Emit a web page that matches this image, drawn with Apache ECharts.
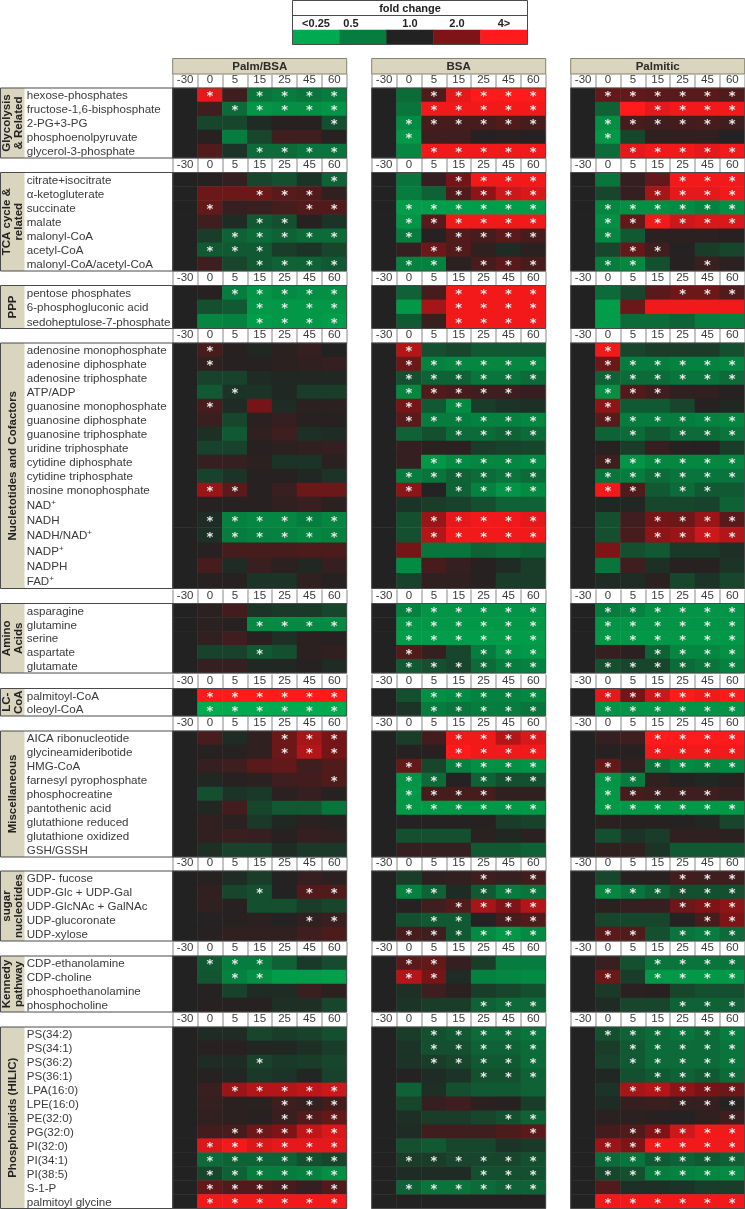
<!DOCTYPE html>
<html>
<head>
<meta charset="utf-8">
<title>fold change heatmap</title>
<script src="https://cdn.jsdelivr.net/npm/echarts@6/dist/echarts.min.js"></script>
<style>
  html, body { margin: 0; padding: 0; background: #fff; }
  #chart { width: 745px; height: 1209px; }
</style>
</head>
<body>
<div id="chart"></div>
<script>
const timePoints = ['-30', '0', '5', '15', '25', '45', '60'];
const panelNames = ['Palm/BSA', 'BSA', 'Palmitic'];
const legendLabels = ['<0.25', '0.5', '1.0', '2.0', '4>'];
const legendValues = [-2, -1, 0, 1, 2];

const groupNames = ['Glycolysis\n& Related', 'TCA cycle &\nrelated', 'PPP', 'Nucletotides and Cofactors',
  'Amino\nAcids', 'LC-\nCoA', 'Miscellaneous', 'sugar\nnucleotides', 'Kennedy\npathway', 'Phospholipids (HILIC)'];

const glycolysisRows = ['hexose-phosphates', 'fructose-1,6-bisphosphate', '2-PG+3-PG', 'phosphoenolpyruvate', 'glycerol-3-phosphate'];
const tcaRows = ['citrate+isocitrate', 'α-ketogluterate', 'succinate', 'malate', 'malonyl-CoA', 'acetyl-CoA', 'malonyl-CoA/acetyl-CoA'];
const pppRows = ['pentose phosphates', '6-phosphogluconic acid', 'sedoheptulose-7-phosphate'];
const nucleotideRows = ['adenosine monophosphate', 'adenosine diphosphate', 'adenosine triphosphate', 'ATP/ADP',
  'guanosine monophosphate', 'guanosine diphosphate', 'guanosine triphosphate', 'uridine triphosphate',
  'cytidine diphosphate', 'cytidine triphosphate', 'inosine monophosphate'];
const cofactorRows = ['NAD+', 'NADH', 'NADH/NAD+', 'NADP+', 'NADPH', 'FAD+'];
const aminoRows = ['asparagine', 'glutamine', 'serine', 'aspartate', 'glutamate'];
const lcCoaRows = ['palmitoyl-CoA', 'oleoyl-CoA'];
const miscRows = ['AICA ribonucleotide', 'glycineamideribotide', 'HMG-CoA', 'farnesyl pyrophosphate', 'phosphocreatine',
  'pantothenic acid', 'glutathione reduced', 'glutathione oxidized', 'GSH/GSSH'];
const sugarRows = ['GDP- fucose', 'UDP-Glc + UDP-Gal', 'UDP-GlcNAc + GalNAc', 'UDP-glucoronate', 'UDP-xylose'];
const kennedyRows = ['CDP-ethanolamine', 'CDP-choline', 'phosphoethanolamine', 'phosphocholine'];
const lipidRows = ['PS(34:2)', 'PS(34:1)', 'PS(36:2)', 'PS(36:1)', 'LPA(16:0)', 'LPE(16:0)', 'PE(32:0)', 'PG(32:0)',
  'PI(32:0)', 'PI(34:1)', 'PI(38:5)', 'S-1-P', 'palmitoyl glycine'];

// log2 fold change, one line per metabolite, same order as the row lists above
const palmBsaValues = [
  [0,1.8,0.3,-0.9,-1,-0.9,-1], [0,0.3,-0.8,-1.5,-1.4,-1.4,-1.5], [0,-0.4,-0.4,-0.1,0.05,0.05,-0.5], [0,0.05,-1,-0.4,0.3,0.3,0.05], [0,0.5,-0.2,-0.8,-0.8,-0.9,-0.9],
  [0,0.05,0.2,-0.4,-0.5,-0.2,-0.7], [0,0.8,0.8,0.8,0.6,0.5,0.15], [0,0.7,0.2,0.25,0.4,0.5,0.5], [0,0.3,-0.1,-0.6,-0.5,0.05,-0.2], [0,-0.3,-0.7,-0.8,-0.7,-0.8,-0.8], [0,-0.6,-0.6,-0.6,-0.3,-0.2,-0.4], [0,0.3,-0.4,-0.6,-0.7,-0.7,-0.6],
  [0,0.05,-1,-1.5,-1.3,-1.4,-1.4], [0,-0.5,-0.6,-1.6,-1.6,-1.6,-1.6], [0,-1.2,-1.1,-1.7,-1.6,-1.6,-1.7],
  [0,0.4,0.05,-0.05,0.1,0.2,0], [0,0.15,0.05,0.05,0.1,0.15,0.2], [0,-0.35,-0.35,-0.1,-0.05,-0.05,-0.05], [0,-0.6,-0.2,-0.2,-0.05,-0.3,-0.3], [0,0.4,-0.1,0.9,-0.1,0.1,0.1], [0,0.25,-0.4,0.1,0.2,0.05,0.05], [0,-0.15,-0.6,0.15,0.3,-0.15,-0.1], [0,-0.35,-0.35,0.05,0.1,0.15,0.2], [0,0.2,0.2,0.1,-0.2,-0.2,0.1], [0,-0.35,-0.2,0.05,0.05,-0.05,-0.2], [0,1.2,0.6,0.05,0.25,0.8,0.8],
  [0,0.05,0.05,0.05,0.15,0.25,0.1], [0,-0.1,-1.1,-1.2,-1.2,-1,-1.2], [0,-0.15,-1,-1.1,-1.1,-1.2,-1.1], [0,0.05,0.4,0.4,0.4,0.45,0.45], [0,0.4,-0.1,0.25,0.1,-0.05,0.2], [0,0.05,0.05,-0.2,-0.2,0.15,0.05],
  [0,0.1,0.35,-0.2,-0.25,-0.25,-0.4], [0,0.1,0.05,-1.3,-1.3,-1.3,-1.3], [0,0.15,0.3,0.05,-0.15,0.1,0.05], [0,-0.35,-0.35,-0.6,-0.5,0.1,0.15], [0,0.2,0.2,-0.05,-0.05,0.05,-0.1],
  [0,2,2,2,2,2,2], [0,-2,-2,-2,-2,-2,-2],
  [0,0.4,-0.1,0.15,0.8,1.3,0.9], [0,0.05,0.05,0.15,0.8,1.4,0.9], [0,0.2,0.3,0.6,0.7,0.3,0.5], [0,-0.05,0.05,0.1,0.3,0.35,0.5], [0,-0.5,-0.2,-0.25,0.1,0.2,0.05], [0,-0.05,0.35,-0.4,-0.6,-0.6,-0.9], [0,0.15,0.1,-0.25,-0.05,0.1,0.05], [0,0.15,0.25,0.2,0.05,0.2,0.15], [0,-0.15,-0.35,-0.35,-0.1,-0.25,-0.25],
  [0,0.05,-0.1,-0.3,0.02,0.2,0.1], [0,0.15,-0.4,-0.5,0.02,0.5,0.5], [0,0.15,0.05,-0.5,-0.5,-0.3,-0.4], [0,0.02,0.05,0.1,0.02,0.15,0.25], [0,0.05,0.15,0.15,0.15,0.3,0.45],
  [0,-0.6,-1,-1,-0.7,-0.25,-0.45], [0,-0.55,-1.1,-1.4,-1.7,-1.7,-1.8], [0,0.02,-0.35,-0.1,-0.1,0.25,0.1], [0,0.05,0.05,0.05,-0.15,-0.15,-0.4],
  [0,-0.1,-0.1,-0.4,-0.3,-0.35,-0.5], [0,0.05,0.05,-0.05,-0.05,-0.15,-0.3], [0,-0.1,-0.1,-0.35,-0.25,-0.3,-0.4], [0,0.05,-0.05,-0.25,-0.2,-0.05,-0.35], [0,0.25,1.2,1.4,1.4,1.5,1.6], [0,0.2,0.1,0.1,0.3,0.2,0.35], [0,0.15,0.1,0.05,0.25,0.5,0.7], [0,0.35,0.4,0.8,1,1.5,1.7], [0,1.7,1.9,1.7,1.8,1.8,1.8], [0,-0.8,-0.7,-0.7,-0.7,-0.5,-0.4], [0,-0.4,-0.7,-1,-1,-1.1,-1.4], [0,0.7,0.5,0.5,0.4,0.2,0.5], [0,1.9,1.9,1.9,1.9,1.9,1.9]
];
const palmBsaStars = [
  '.*.****', '..*****', '......*', '.......', '...****',
  '......*', '...***.', '.*...**', '...**..', '..*****', '.***...', '...****',
  '..*****', '...****', '...****',
  '.*.....', '.*.....', '.......', '..*....', '.*.....', '.......', '.......', '.......', '.......', '.......', '.**....',
  '.......', '.******', '.******', '.......', '.......', '.......',
  '.......', '...****', '.......', '...*...', '.......',
  '.******', '.******',
  '....***', '....***', '.......', '......*', '.......', '.......', '.......', '.......', '.......',
  '.......', '...*.**', '.......', '.....**', '.......',
  '.***...', '..**...', '.......', '.......',
  '.......', '.......', '...*...', '.......', '..*****', '....***', '....***', '..*****', '.******', '.******', '.******', '.****.*', '.******'
];

const bsaValues = [
  [0,-0.8,0.5,1.8,2,2,2], [0,-0.9,1.9,1.9,1.9,1.9,1.9], [0,-1.3,0.4,0.4,0.4,0.5,0.4], [0,-1.6,0.3,0.3,0.05,0.1,0.05], [0,-1.2,1.9,1.9,1.9,1.9,1.9],
  [0,-0.9,0.2,0.9,1.9,1.9,1.9], [0,-1,-0.7,0.5,1.1,1.6,1.7], [0,-1.7,-1.7,-1.7,-1.7,-1.7,-1.7], [0,-1.5,0.6,1.9,1.9,1.9,1.9], [0,-1,0.05,0.5,0.4,0.6,0.4], [0,0.2,0.8,0.5,0.15,-0.1,0.1], [0,-1.1,-1.1,0.1,0.4,0.6,0.4],
  [0,-0.7,0.4,1.9,1.9,1.9,1.9], [0,-1.6,1.3,1.9,1.9,1.9,1.9], [0,-0.6,0.25,1.9,1.9,1.9,1.9],
  [0,1.4,-0.5,-0.4,-0.6,-0.6,-0.6], [0,0.8,-1.1,-1.2,-1.2,-1.2,-1.2], [0,-0.5,-0.7,-0.7,-0.9,-0.9,-0.8], [0,-1.2,0.5,0.4,0.3,0.3,0.2], [0,0.9,-0.6,-1.3,-0.3,-0.2,-0.15], [0,0.6,-1,-1,-1.1,-1.1,-1.2], [0,-0.7,-0.5,-0.8,-0.8,-0.7,-0.8], [0,0.2,0.1,0.1,-0.3,-0.35,-0.4], [0,0.2,-1.6,-1.3,-1.2,-1.2,-1.3], [0,-1,-0.9,-0.7,-0.8,-0.9,-0.8], [0,1.1,0.02,-0.7,-1.1,-1.5,-1.3],
  [0,-0.2,-0.3,-0.35,-0.5,-0.7,-0.7], [0,-0.5,1.2,1.8,1.9,1.9,1.8], [0,-0.5,1.4,1.9,1.9,1.9,1.9], [0,0.9,-0.9,-0.9,-0.7,-0.8,-0.7], [0,-1.3,0.4,0.2,0.05,-0.1,-0.3], [0,-0.35,0.15,0.15,0.05,-0.3,-0.3],
  [0,-1.1,-1.5,-1.5,-1.5,-1.5,-1.5], [0,-1.6,-1.6,-1.6,-1.6,-1.6,-1.6], [0,-1.7,-1.7,-1.7,-1.7,-1.7,-1.7], [0,0.5,0.2,-0.4,-1,-1.5,-1.6], [0,-0.6,-0.5,-0.4,-0.8,-1,-1.1],
  [0,-0.5,-1.4,-1.3,-1.1,-1.1,-1.2], [0,-0.2,-1,-0.9,-1,-1,-0.9],
  [0,-0.3,0.35,1.9,1.9,1.4,1.7], [0,0.05,0.05,2,1.9,1.9,1.9], [0,0.7,-0.4,-1.1,-1.4,-1.4,-1.5], [0,-1.5,-0.8,0.02,-0.7,-0.5,-0.5], [0,-1.6,0.4,0.4,0.4,0.15,0.15], [0,-1.6,-1.6,-1.6,-1.6,-1.6,-1.6], [0,0.02,0.02,0.02,0.05,-0.3,-0.35], [0,-0.5,-0.5,-0.5,0.1,-0.05,0.1], [0,0.2,0.2,0.2,-0.6,-0.6,-0.7],
  [0,-0.3,0.1,0.15,0.3,0.2,0.35], [0,-1.1,-0.7,-0.1,-0.6,-1,-0.9], [0,0.05,0.3,0.5,1.3,1,1.4], [0,-0.5,-0.6,-0.6,0.02,0.4,0.5], [0,0.4,0.3,-0.6,-1.3,-1.6,-1.3],
  [0,0.6,0.7,0.2,-0.3,-1,-1], [0,1.4,0.9,-0.1,-1.1,-1.2,-1.3], [0,-0.15,0.3,0.1,-0.3,-0.4,-0.5], [0,-0.2,-0.3,-0.3,-0.7,-0.8,-0.8],
  [0,-0.3,-0.5,-0.6,-0.8,-0.8,-0.9], [0,-0.2,-0.5,-0.5,-0.7,-0.7,-0.8], [0,-0.2,-0.3,-0.4,-0.6,-0.6,-0.8], [0,0.02,-0.1,-0.2,-0.5,-0.5,-0.7], [0,-0.7,-0.15,-0.5,-0.6,-0.6,-0.7], [0,-0.4,0.2,0.3,0.1,0.05,-0.3], [0,-0.15,-0.3,-0.3,-0.4,-0.5,-0.7], [0,-0.1,0.3,0.3,0.3,0.45,0.6], [0,-0.5,-0.6,-0.4,-0.4,-0.2,-0.25], [0,-0.3,-0.3,-0.4,-0.4,-0.4,-0.5], [0,-0.1,-0.1,-0.1,-0.5,-0.5,-0.5], [0,-0.7,-0.9,-0.9,-0.8,-0.7,-0.7], [0,0,0,0,0,0,0]
];
const bsaStars = [
  '..*****', '..*****', '.******', '.*.....', '..*****',
  '...****', '...****', '.******', '.******', '.*.****', '..**...', '.**.***',
  '...****', '...****', '...****',
  '.*.....', '.******', '.******', '.*****.', '.*.*...', '.******', '...****', '.......', '..*****', '.******', '.*.****',
  '.......', '..*****', '..*****', '.......', '.......', '.......',
  '.******', '.******', '.******', '.*..***', '.******',
  '..*****', '..*****',
  '...****', '...****', '.*.****', '.**.***', '.****..', '.******', '.......', '.......', '.......',
  '....*.*', '.**.***', '...****', '..**.**', '.******',
  '.**....', '.**....', '.......', '....***',
  '..*****', '..*****', '..*****', '....***', '.......', '.......', '.....**', '......*', '.......', '.******', '....***', '.******', '.......'
];

const palmiticValues = [
  [0,0.7,0.7,0.6,0.6,0.6,0.5], [0,-0.7,2,1.8,1.9,1.9,1.9], [0,-1.4,0.4,0.3,0.35,0.4,0.3], [0,-1.6,-0.4,0.15,0.15,0.15,0.02], [0,-0.8,1.8,1.9,1.9,1.8,1.9],
  [0,-0.9,0.2,0.7,1.9,1.9,1.9], [0,-0.4,0.2,1.3,1.8,1.8,1.9], [0,-1.2,-1.4,-1.4,-1.3,-1.1,-1.4], [0,-1.4,0.7,1.9,1.6,1.7,1.7], [0,-1.2,-0.6,0.1,0.1,0.1,0.05], [0,-0.4,0.7,0.3,0.02,-0.3,-0.4], [0,-1,-1.2,-0.5,0.05,0.25,0.1],
  [0,-0.8,-0.4,0.6,0.8,0.8,0.5], [0,-1.7,0.8,1.9,1.9,1.9,1.9], [0,-1.7,-0.8,-0.8,-0.7,-1,-1.1],
  [0,1.9,-0.4,-0.3,-0.3,-0.3,-0.5], [0,0.8,-1,-1,-1.1,-1.1,-1.2], [0,-0.7,-0.8,-0.8,-0.9,-0.9,-0.8], [0,-1.4,0.5,0.3,0.15,0.15,0.05], [0,1.1,-0.6,-0.6,-0.4,0.05,-0.05], [0,0.6,-1,-1,-1,-1.1,-1.2], [0,-0.7,-0.8,-0.6,-0.8,-0.8,-0.9], [0,0.05,-0.3,0.2,0.05,0.05,-0.3], [0,0.3,-1.5,-1.2,-1.2,-1.2,-1.2], [0,-0.9,-1,-0.8,-0.9,-0.9,-0.9], [0,1.9,0.5,-0.6,-0.8,-0.6,-0.6],
  [0,-0.05,-0.05,-0.4,-0.4,-0.35,-0.7], [0,-0.5,0.3,0.9,0.8,1.2,0.6], [0,-0.5,0.4,1.1,1.2,1.6,1.4], [0,1,-0.5,-0.6,-0.25,-0.25,-0.15], [0,-0.9,0.3,-0.15,0.05,0.05,-0.2], [0,-0.1,-0.1,0.1,-0.4,-0.2,-0.4],
  [0,-1,-1.1,-1.4,-1.5,-1.5,-1.5], [0,-1.5,-1.5,-1.5,-1.5,-1.5,-1.5], [0,-1.6,-1.6,-1.6,-1.6,-1.6,-1.6], [0,0.2,0.1,-0.7,-1.2,-1.2,-1.4], [0,-0.5,-0.4,-0.4,-0.8,-0.9,-1.1],
  [0,1.8,0.9,1.6,2,1.9,2], [0,-1.5,-1.5,-1.5,-1.5,-1.5,-1.5],
  [0,0.2,0.3,2,2,2,2], [0,0.05,0.05,1.9,1.9,1.9,1.9], [0,0.7,0.15,-0.9,-1.3,-1.2,-1.3], [0,-1.5,-1,0.15,0.02,-0.05,0.05], [0,-1.6,0.4,0.3,0.3,0.3,0.2], [0,-1.6,-1.6,-1.6,-1.6,-1.6,-1.6], [0,0.1,0.05,0.05,0.02,-0.05,-0.4], [0,-0.5,-0.2,-0.3,0.15,0.15,0.1], [0,0.15,0.15,-0.2,-0.6,-0.6,-0.6],
  [0,-0.4,0.05,0.05,0.35,0.3,0.3], [0,-1.2,-0.9,-0.7,-0.5,-0.5,-0.5], [0,0.1,0.2,0.2,0.8,1,1.1], [0,-0.4,-0.4,-0.4,0.02,0.4,1], [0,0.6,0.5,-0.5,-0.9,-1,-0.8],
  [0,0.25,-0.5,-0.9,-0.9,-0.9,-0.9], [0,0.8,-0.3,-1.6,-1.6,-1.6,-1.6], [0,-0.25,0.1,0.05,-0.4,-0.5,-0.5], [0,-0.1,-0.4,-0.4,-0.7,-0.7,-0.7],
  [0,-0.5,-0.7,-0.8,-0.9,-0.8,-1], [0,-0.3,-0.6,-0.8,-0.8,-0.8,-0.9], [0,-0.35,-0.6,-0.8,-0.8,-0.8,-0.9], [0,-0.05,-0.5,-0.6,-0.7,-0.6,-0.8], [0,-0.2,1.3,1.4,1.1,0.9,0.8], [0,-0.1,0.2,0.25,0.2,0.2,0.05], [0,0.1,0.1,0.05,0.02,0.15,0.3], [0,0.35,0.5,1,1.6,1.9,1.9], [0,1.2,1,1.9,1.9,1.9,1.9], [0,-0.8,-0.9,-0.6,-0.7,-0.6,-0.7], [0,-0.4,-0.5,-1,-1.1,-1.2,-1.3], [0,0.5,-0.15,-0.15,-0.2,-0.3,-0.3], [0,1.9,1.9,1.9,1.9,1.9,1.9]
];
const palmiticStars = [
  '.******', '...****', '.******', '.*.....', '..*****',
  '....***', '...****', '.******', '.******', '.*.....', '..**...', '.**..*.',
  '....***', '.......', '.......',
  '.*.....', '.******', '.******', '.***...', '.*.....', '.******', '..*.***', '.......', '.******', '.******', '.**.**.',
  '.......', '...****', '...****', '.......', '.......', '.......',
  '.******', '.******', '.******', '...****', '.******',
  '.******', '.******',
  '...****', '...****', '.*.****', '.**....', '.*****.', '.******', '.......', '.......', '.......',
  '....***', '.******', '....***', '.....**', '.**.***',
  '...****', '.*.****', '.......', '....***',
  '.******', '..*****', '..*****', '...****', '..*****', '....***', '......*', '..*****', '.******', '.******', '.******', '.......', '.******'
];

const panelValues = [palmBsaValues, bsaValues, palmiticValues];
const panelStars = [palmBsaStars, bsaStars, palmiticStars];

// layout: y position of each block of rows
const panelLeft = [172.7, 371.7, 570.7];
const panelWidth = 174;
const sections = [
  { rows: glycolysisRows, group: 0, top: 88, height: 70 },
  { rows: tcaRows, group: 1, top: 172.5, height: 98.5 },
  { rows: pppRows, group: 2, top: 285.5, height: 43 },
  { rows: nucleotideRows, group: 3, top: 343, height: 154 },
  { rows: cofactorRows, group: 3, top: 497, height: 91.5, noTicks: true },
  { rows: aminoRows, group: 4, top: 603.5, height: 69.5 },
  { rows: lcCoaRows, group: 5, top: 688.5, height: 27.5 },
  { rows: miscRows, group: 6, top: 731, height: 126 },
  { rows: sugarRows, group: 7, top: 871, height: 70 },
  { rows: kennedyRows, group: 8, top: 956, height: 56 },
  { rows: lipidRows, group: 9, top: 1027, height: 181.5 }
];

const rowText = '#3a3a3a';
const tickGray = '#b0b0b0';
const frameColor = '#4a4a4a';
const tan = '#DAD5BE';

const grid = [];
const xAxis = [];
const yAxis = [];
const series = [];
const graphic = [];

function addHeatmap(left, top, width, height, xCats, yCats, data, xLabel, yLabel) {
  const i = grid.length;
  grid.push({ left, top, width, height });
  xAxis.push({
    gridIndex: i, type: 'category', position: 'top', data: xCats,
    axisLine: { show: !!xLabel, lineStyle: { color: tickGray } },
    axisTick: { show: !!xLabel, length: 14, lineStyle: { color: tickGray, width: 1.5 } },
    axisLabel: Object.assign({ show: !!xLabel, interval: 0, margin: 2, fontFamily: 'Liberation Sans', fontSize: 11.5, color: rowText, hideOverlap: false }, xLabel),
    splitLine: { show: false }
  });
  yAxis.push({
    gridIndex: i, type: 'category', inverse: true, data: yCats,
    axisLine: { show: false }, axisTick: { show: false }, splitLine: { show: false },
    axisLabel: Object.assign({ show: !!yLabel, interval: 0 }, yLabel)
  });
  series.push({
    type: 'heatmap', xAxisIndex: i, yAxisIndex: i, data, silent: true,
    itemStyle: { borderWidth: 0 },
    label: {
      show: true, color: '#e9e9e9', fontFamily: 'DejaVu Sans', fontSize: 13, fontWeight: 'bold', offset: [0, 2],
      formatter: p => p.value[3] ? '*' : ''
    }
  });
}

const rowLabel = {
  align: 'left', margin: 146, fontFamily: 'Liberation Sans', fontSize: 11.6, color: rowText, padding: [2, 0, 0, 0],
  formatter: v => v.replace(/^((?:NAD|FAD).*)\+$/, '$1{sup|+}'),
  rich: { sup: { fontSize: 8, color: rowText, padding: [0, 0, 6, 0] } }
};

panelNames.forEach((name, p) => {
  let start = 0;
  sections.forEach(s => {
    const cells = [];
    s.rows.forEach((r, y) => {
      panelValues[p][start + y].forEach((v, x) => {
        cells.push([x, y, v, panelStars[p][start + y][x] === '*' ? 1 : 0]);
      });
    });
    addHeatmap(panelLeft[p], s.top, panelWidth, s.height, timePoints, s.rows, cells,
      s.noTicks ? null : {}, p === 0 ? rowLabel : null);
    start += s.rows.length;
  });

  // panel title bar
  graphic.push({ type: 'rect', shape: { x: panelLeft[p], y: 58.5, width: panelWidth, height: 15.5 },
    style: { fill: tan, stroke: '#85826f', lineWidth: 1 } });
  graphic.push({ type: 'text', x: panelLeft[p] + panelWidth / 2, y: 66.5,
    style: { text: name, fill: '#2b2b2b', font: 'bold 11.5px "Liberation Sans"', textAlign: 'center', textVerticalAlign: 'middle' } });
});

// group frames and the tan side labels
groupNames.forEach((label, g) => {
  const parts = sections.filter(s => s.group === g);
  const y0 = parts[0].top;
  const last = parts[parts.length - 1];
  const y1 = last.top + last.height;
  graphic.push({ type: 'rect', z: 10, shape: { x: 0, y: y0, width: 24.5, height: y1 - y0 }, style: { fill: tan } });
  graphic.push({ type: 'rect', z: 11, shape: { x: 0.5, y: y0, width: panelLeft[0] - 0.5, height: y1 - y0 },
    style: { fill: null, stroke: frameColor, lineWidth: 1 } });
  graphic.push({ type: 'text', z: 12, x: 12.5, y: (y0 + y1) / 2, rotation: Math.PI / 2,
    style: { text: label, fill: '#222', font: 'bold 11.5px "Liberation Sans"', lineHeight: 12, textAlign: 'center', textVerticalAlign: 'middle' } });
  panelLeft.forEach(x => {
    graphic.push({ type: 'rect', z: 11, shape: { x, y: y0, width: panelWidth, height: y1 - y0 },
      style: { fill: null, stroke: frameColor, lineWidth: 1 } });
  });
});

// fold change legend, same colour scale as the cells
addHeatmap(292.5, 30, 235, 14, legendLabels, ['fold'], legendValues.map((v, x) => [x, 0, v, 0]), {
  margin: 1, fontSize: 11, fontWeight: 'bold', color: '#222',
  formatter: v => v === '0.5' ? '{off|0.5}' : v,
  rich: { off: { fontSize: 11, fontWeight: 'bold', color: '#222', padding: [0, 24, 0, 0] } }
}, null);
xAxis[xAxis.length - 1].axisTick.show = false;
xAxis[xAxis.length - 1].axisLine.lineStyle.color = frameColor;
graphic.push({ type: 'rect', z: 11, shape: { x: 292.5, y: 0.5, width: 235, height: 44 }, style: { fill: null, stroke: frameColor, lineWidth: 1 } });
graphic.push({ type: 'line', z: 11, shape: { x1: 292.5, y1: 15.5, x2: 527.5, y2: 15.5 }, style: { stroke: frameColor, lineWidth: 1 } });
graphic.push({ type: 'text', x: 410, y: 8.5, style: { text: 'fold change', fill: '#222', font: 'bold 11px "Liberation Sans"', textAlign: 'center', textVerticalAlign: 'middle' } });

const chart = echarts.init(document.getElementById('chart'));
chart.setOption({
  animation: false,
  backgroundColor: '#fff',
  grid, xAxis, yAxis, series, graphic,
  visualMap: {
    show: false, type: 'continuous', min: -2, max: 2, dimension: 2,
    seriesIndex: series.map((s, i) => i),
    inRange: { color: ['#00AA4F', '#067D3E', '#222222', '#7F1416', '#FF1A1C'] }
  }
});
</script>
</body>
</html>
